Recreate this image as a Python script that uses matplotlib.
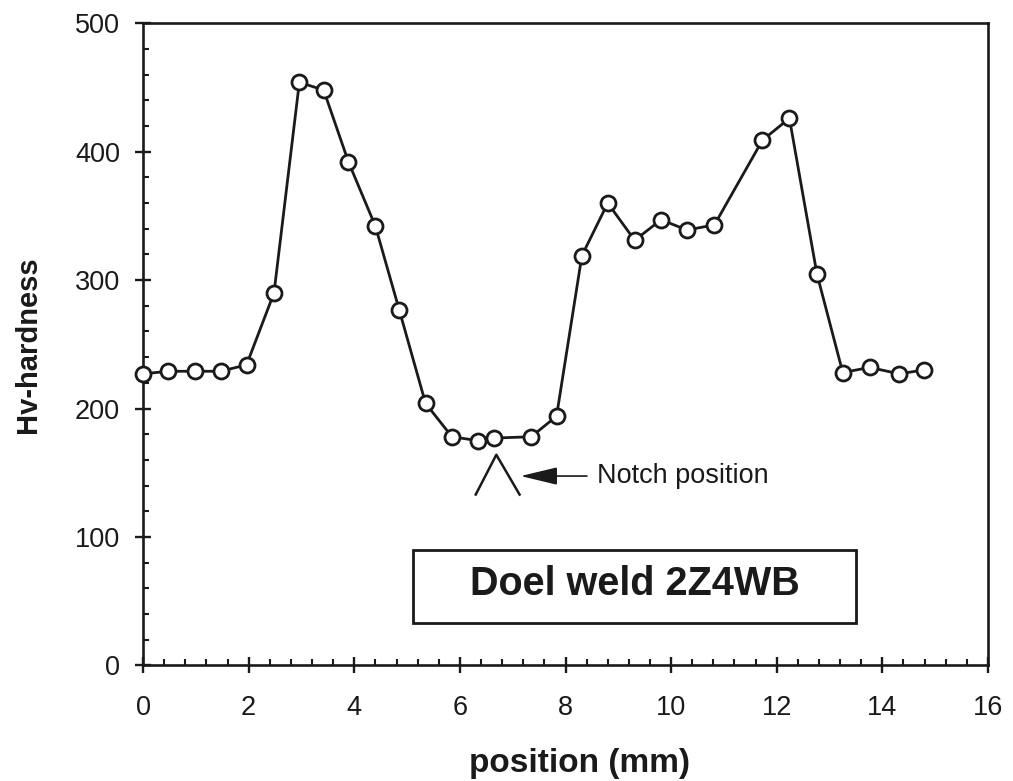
import matplotlib
matplotlib.use("Agg")
import matplotlib.pyplot as plt
from matplotlib.patches import Rectangle
from matplotlib.ticker import MultipleLocator

plt.rcParams['font.family'] = ['Liberation Sans', 'DejaVu Sans']

# hardness traverse
position_mm = [0.0, 0.48, 0.98, 1.47, 1.96, 2.48, 2.96, 3.42, 3.89, 4.40,
               4.85, 5.35, 5.85, 6.34, 6.65, 7.35, 7.83, 8.31, 8.80, 9.31,
               9.81, 10.30, 10.82, 11.73, 12.24, 12.76, 13.25, 13.76, 14.32, 14.78]
hardness_hv = [227, 229, 229, 229, 234, 290, 454, 448, 392, 342,
               277, 204, 178, 175, 177, 178, 194, 319, 360, 331,
               347, 339, 343, 409, 426, 305, 228, 232, 227, 230]

x_ticks = [0, 2, 4, 6, 8, 10, 12, 14, 16]
y_ticks = [0, 100, 200, 300, 400, 500]
notch_x = 6.69
title_text = "Doel weld 2Z4WB"

ink = '#1a1a1a'

fig = plt.figure(figsize=(10.13, 7.81), dpi=100)
ax = fig.add_axes([0.1412, 0.1481, 0.8341, 0.8221])

ax.plot(position_mm, hardness_hv, color=ink, lw=2.0, marker='o',
        ms=10.8, mfc='white', mec=ink, mew=2.0, clip_on=False, zorder=3)

ax.set_xlim(0, 16)
ax.set_ylim(0, 500)
ax.set_xticks(x_ticks)
ax.set_yticks(y_ticks)
ax.xaxis.set_minor_locator(MultipleLocator(0.4))
ax.yaxis.set_minor_locator(MultipleLocator(20))
ax.tick_params(which='major', direction='inout', length=11, width=1.7,
               labelsize=19.5, color=ink, labelcolor=ink)
ax.tick_params(axis='x', which='major', pad=16)
ax.tick_params(axis='y', which='major', pad=11)
ax.tick_params(which='minor', direction='in', length=4.5, width=1.5, color=ink)
for sp in ax.spines.values():
    sp.set_linewidth(1.9)
    sp.set_color(ink)

ax.set_xlabel('position (mm)', fontsize=24, fontweight='bold', color=ink)
ax.set_ylabel('Hv-hardness', fontsize=21, fontweight='bold', color=ink)
ax.xaxis.set_label_coords(0.517, -0.128)
ax.yaxis.set_label_coords(-0.1195, 0.499)

# notch symbol and arrow
ax.plot([notch_x - 0.39, notch_x, notch_x + 0.44], [133, 164, 133],
        color=ink, lw=1.8, clip_on=False)
ax.annotate('Notch position', xy=(notch_x + 0.46, 147.4), xytext=(8.59, 147.4),
            ha='left', va='center', fontsize=19.5, color=ink,
            arrowprops=dict(arrowstyle='-|>,head_length=2.3,head_width=0.55',
                            mutation_scale=10, color=ink, lw=1.2,
                            shrinkA=5, shrinkB=0))

# title box
ax.add_patch(Rectangle((5.11, 33.2), 8.40, 56.6, fill=False,
                       lw=2.0, edgecolor=ink))
ax.text(9.31, 54.7, title_text, ha='center', va='baseline',
        fontsize=28.5, fontweight='bold', color=ink)

fig.savefig('out.png', dpi=100)
